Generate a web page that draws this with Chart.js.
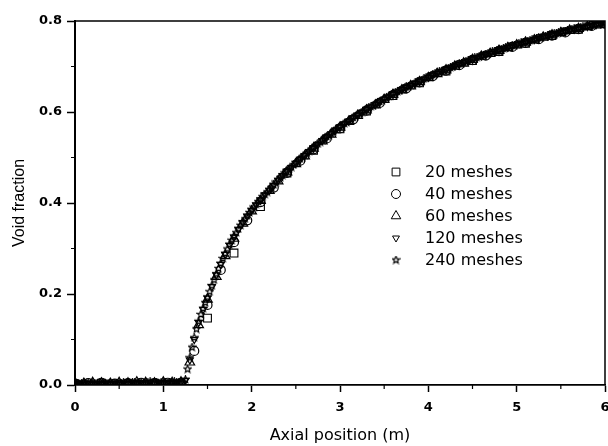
<!DOCTYPE html>
<html><head><meta charset="utf-8">
<script src="https://cdn.jsdelivr.net/npm/chart.js@4.4.1/dist/chart.umd.min.js"></script>
<style>html,body{margin:0;padding:0;background:#fff;}#wrap{width:608px;height:446px;}</style>
</head><body><div id="wrap"><canvas id="c" width="608" height="446"></canvas></div>
<script>
// ---- data ----
const domainLength = 6;                 // axial length (m)
const meshCounts = [20, 40, 60, 120, 240];
const seriesLabels = ['20 meshes', '40 meshes', '60 meshes', '120 meshes', '240 meshes'];
const xTickValues = [0, 1, 2, 3, 4, 5, 6];
const xMinorTickValues = [0.5, 1.5, 2.5, 3.5, 4.5, 5.5];
const yTickValues = [0, 0.2, 0.4, 0.6, 0.8];
const yMinorTickValues = [0.1, 0.3, 0.5, 0.7];

const void20 = [0.003,0.004,0.003,0.004,0.004,0.147,0.290,0.392,0.466,0.516,
  0.563,0.602,0.636,0.664,0.690,0.713,0.733,0.751,0.768,0.782,0.794];

const void40 = [0.003,0.004,0.005,0.003,0.004,0.005,0.004,0.005,0.004,
  0.075,0.176,0.253,0.314,0.362,0.402,0.434,
  0.466,0.493,0.518,0.542,0.564,0.584,0.603,0.620,0.637,0.652,
  0.665,0.679,0.691,0.703,0.714,0.724,0.734,0.743,0.752,0.760,
  0.768,0.775,0.782,0.789,0.794];

const void60 = [0.004,0.003,0.005,0.004,0.003,0.005,0.004,0.006,0.005,0.004,0.006,0.005,0.006,
  0.050,0.132,0.188,0.238,0.284,0.322,0.355,0.382,0.405,0.427,
  0.448,0.468,0.486,0.503,0.520,0.536,0.551,0.566,0.579,0.592,
  0.604,0.615,0.627,0.638,0.648,0.657,0.666,0.675,0.684,0.692,
  0.700,0.707,0.715,0.722,0.728,0.735,0.741,0.747,0.753,0.758,
  0.764,0.769,0.774,0.779,0.783,0.787,0.791,0.795];

const void120 = [0.004,0.003,0.005,0.003,0.004,0.002,0.004,0.005,0.003,0.004,
  0.005,0.004,0.003,0.005,0.006,0.004,0.005,0.006,0.004,0.005,
  0.006,0.005,0.007,0.005,0.006,
  0.010,0.055,0.100,0.137,0.166,0.191,0.216,0.242,0.265,0.287,
  0.307,0.325,0.342,0.357,0.371,0.384,0.396,0.407,0.418,0.428,
  0.439,0.450,0.460,0.469,
  0.478,0.487,0.496,0.504,0.513,0.521,0.529,0.537,0.545,0.552,
  0.560,0.567,0.574,0.580,0.587,0.593,0.599,0.605,0.611,0.616,
  0.622,0.628,0.633,0.639,0.644,0.649,0.654,0.658,0.663,0.667,
  0.672,0.676,0.681,0.685,0.689,0.693,0.697,0.701,0.705,0.708,
  0.712,0.716,0.719,0.723,0.726,0.729,0.733,0.736,0.739,0.742,
  0.745,0.748,0.751,0.754,0.756,0.759,0.762,0.765,0.767,0.770,
  0.772,0.775,0.777,0.780,0.782,0.784,0.786,0.788,0.790,0.792,
  0.794,0.796];

const void240 = [0.003,0.004,0.002,0.004,0.005,0.003,0.004,0.003,0.005,0.004,
  0.003,0.004,0.002,0.003,0.004,0.003,0.005,0.004,0.003,0.004,
  0.005,0.004,0.006,0.003,0.005,0.004,0.006,0.005,0.004,0.006,
  0.005,0.004,0.006,0.005,0.007,0.004,0.006,0.005,0.004,0.006,
  0.005,0.006,0.004,0.006,0.005,0.007,0.005,0.006,0.005,0.006,
  0.012,0.035,0.060,0.083,0.104,0.123,0.140,0.155,0.168,0.181,
  0.193,0.205,0.218,0.231,0.244,0.256,0.267,0.278,0.289,0.299,
  0.309,0.318,0.327,0.335,0.343,0.351,0.358,0.365,0.372,0.379,
  0.385,0.391,0.397,0.403,0.408,0.414,0.419,0.424,0.429,0.434,
  0.440,0.446,0.451,0.456,0.461,0.466,
  0.470,0.475,0.479,0.484,0.488,0.492,0.497,0.501,0.505,0.509,0.514,0.518,
  0.522,0.526,0.530,0.534,0.538,0.542,0.546,0.549,0.553,0.557,0.561,0.564,
  0.568,0.571,0.575,0.578,0.581,0.584,0.588,0.591,0.594,0.597,0.600,0.603,
  0.606,0.609,0.612,0.614,0.617,0.620,0.623,0.626,0.629,0.632,0.634,0.637,
  0.640,0.642,0.645,0.647,0.650,0.652,0.655,0.657,0.659,0.661,0.664,0.666,
  0.668,0.670,0.673,0.675,0.677,0.679,0.682,0.684,0.686,0.688,0.690,0.692,
  0.694,0.696,0.698,0.700,0.702,0.704,0.706,0.707,0.709,0.711,0.713,0.715,
  0.717,0.719,0.720,0.722,0.724,0.725,0.727,0.728,0.730,0.732,0.734,0.735,
  0.737,0.738,0.740,0.741,0.743,0.744,0.746,0.747,0.749,0.750,0.752,0.753,
  0.755,0.756,0.757,0.759,0.760,0.761,0.763,0.764,0.766,0.767,0.768,0.770,
  0.771,0.772,0.773,0.775,0.776,0.777,0.778,0.780,0.781,0.782,0.783,0.784,
  0.785,0.786,0.787,0.788,0.789,0.790,0.791,0.792,0.793,0.794,0.795,0.796,
  0.797];

const seriesValues = [void20, void40, void60, void120, void240];

// ---- styling ----
function makeStar(size, lw) {
  const c = document.createElement('canvas');
  c.width = size; c.height = size;
  const g = c.getContext('2d');
  g.strokeStyle = '#000'; g.lineWidth = lw;
  const cx = size / 2, cy = size / 2, R = size / 2 - 0.7, r = R * 0.45;
  g.beginPath();
  for (let k = 0; k < 10; k++) {
    const a = -Math.PI / 2 + k * Math.PI / 5;
    const rr = (k % 2) ? r : R;
    const px = cx + rr * Math.cos(a), py = cy + rr * Math.sin(a);
    if (k === 0) g.moveTo(px, py); else g.lineTo(px, py);
  }
  g.closePath(); g.stroke();
  return c;
}
const starImg = makeStar(9, 1.2);
const markerStyles = [
  {pointStyle: 'rect', radius: 5.5, rotation: 0, width: 1.1},
  {pointStyle: 'circle', radius: 4.5, rotation: 0, width: 1.2},
  {pointStyle: 'triangle', radius: 5.5, rotation: 0, width: 1.2},
  {pointStyle: 'triangle', radius: 4, rotation: 180, width: 1.2},
  {pointStyle: starImg, radius: 4.5, rotation: 0, width: 1.2}
];

const datasets = seriesValues.map((vals, s) => ({
  label: seriesLabels[s],
  data: vals.map((v, i) => ({x: i * domainLength / meshCounts[s], y: v})),
  pointStyle: markerStyles[s].pointStyle,
  pointRadius: markerStyles[s].radius,
  pointRotation: markerStyles[s].rotation,
  pointBorderColor: '#000',
  pointBackgroundColor: 'rgba(0,0,0,0)',
  pointBorderWidth: markerStyles[s].width,
  showLine: false
}));

// ---- plugins ----
const framePlugin = {
  id: 'frame',
  afterDatasetsDraw(chart) {
    const {ctx, chartArea: a, scales} = chart;
    ctx.save();
    ctx.strokeStyle = '#000';
    ctx.lineWidth = 1.5;
    ctx.beginPath();
    ctx.moveTo(a.left, a.top); ctx.lineTo(a.right, a.top); ctx.lineTo(a.right, a.bottom);
    ctx.stroke();
    ctx.lineWidth = 1.2;
    ctx.beginPath();
    xMinorTickValues.forEach(v => {
      const px = scales.x.getPixelForValue(v);
      ctx.moveTo(px, a.bottom); ctx.lineTo(px, a.bottom + 4);
    });
    yMinorTickValues.forEach(v => {
      const py = scales.y.getPixelForValue(v);
      ctx.moveTo(a.left, py); ctx.lineTo(a.left - 4, py);
    });
    ctx.stroke();
    ctx.restore();
  }
};

const legendPlugin = {
  id: 'insideLegend',
  afterDatasetsDraw(chart) {
    const {ctx} = chart;
    const markerX = 396, textX = 425, rowY0 = 172, rowStep = 22;
    ctx.save();
    ctx.font = '16px "DejaVu Sans"';
    ctx.textBaseline = 'middle';
    ctx.textAlign = 'left';
    chart.data.datasets.forEach((ds, i) => {
      const y = rowY0 + i * rowStep;
      ctx.strokeStyle = '#000'; ctx.fillStyle = 'rgba(0,0,0,0)'; ctx.lineWidth = 1;
      Chart.helpers.drawPoint(ctx, {pointStyle: ds.pointStyle, radius: ds.pointRadius, rotation: ds.pointRotation, borderWidth: 1}, markerX, y);
      ctx.fillStyle = '#000';
      ctx.fillText(ds.label, textX, y + 1);
    });
    ctx.restore();
  }
};

const tickFont = {family: 'DejaVu Sans', size: 13, weight: 'bold'};

new Chart(document.getElementById('c'), {
  type: 'scatter',
  data: {datasets},
  options: {
    responsive: false, animation: false, devicePixelRatio: 1,
    layout: {autoPadding: false, padding: {left: 0, right: 3, top: 21, bottom: 0}},
    plugins: {legend: {display: false}, tooltip: {enabled: false}},
    scales: {
      x: {
        type: 'linear', min: 0, max: 6,
        afterBuildTicks(s) { s.ticks = xTickValues.map(v => ({value: v})); },
        afterFit(s) { s.height = 61; s.paddingLeft = 0; s.paddingRight = 0; },
        ticks: {callback: v => String(v), font: tickFont, color: '#000', padding: 8, maxRotation: 0, autoSkip: false},
        grid: {drawOnChartArea: false, color: '#000', tickLength: 7, tickWidth: 1.5},
        border: {color: '#000', width: 1.8},
        title: {display: true, text: 'Axial position (m)', color: '#000',
          font: {family: 'DejaVu Sans', size: 16}, padding: {top: 0, bottom: 1}}
      },
      y: {
        type: 'linear', min: 0, max: 0.8,
        afterBuildTicks(s) { s.ticks = yTickValues.map(v => ({value: v})); },
        afterFit(s) { s.width = 75; s.paddingTop = 0; s.paddingBottom = 0; },
        ticks: {callback: v => v.toFixed(1), font: tickFont, color: '#000', padding: 5},
        grid: {drawOnChartArea: false, color: '#000', tickLength: 8, tickWidth: 1.5},
        border: {color: '#000', width: 2},
        title: {display: true, text: 'Void fraction', color: '#000',
          font: {family: 'Liberation Sans', size: 16}, padding: {top: 10, bottom: 0}}
      }
    }
  },
  plugins: [framePlugin, legendPlugin]
});
</script>
</body></html>
